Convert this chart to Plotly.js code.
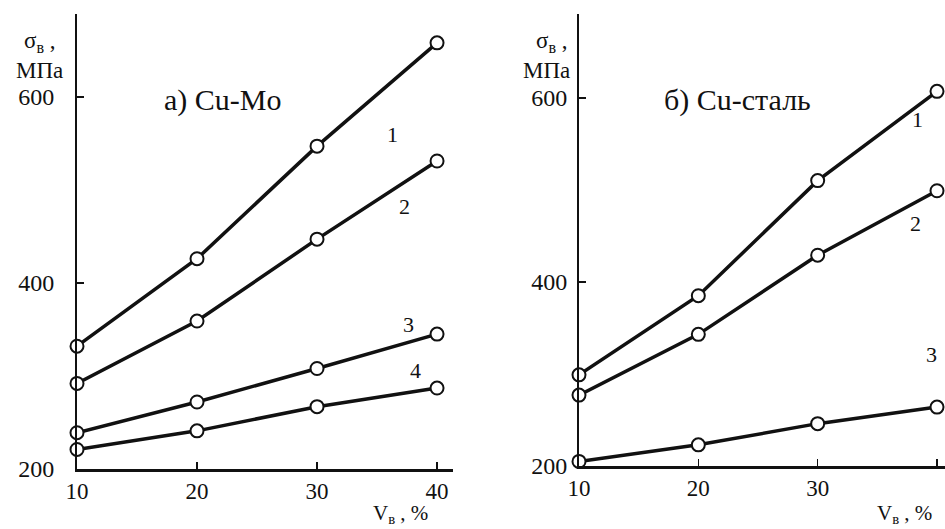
<!DOCTYPE html>
<html>
<head>
<meta charset="utf-8">
<script src="https://cdn.plot.ly/plotly-3.0.1.min.js"></script>
<style>html,body{margin:0;padding:0;background:#fff;}#chart{width:945px;height:529px;}</style>
</head>
<body>
<div id="chart"></div>
<script>
// Volume fraction of fibres, %
const vFrac = [10, 20, 30, 40];

// Panel a) Cu-Mo : tensile strength, MPa
const cuMo1 = [332, 426, 547, 658];
const cuMo2 = [292, 359, 447, 531];
const cuMo3 = [239, 272, 308, 345];
const cuMo4 = [221, 241, 267, 287];

// Panel б) Cu-сталь : tensile strength, MPa
const cuSt1 = [299, 385, 510, 607];
const cuSt2 = [277, 343, 429, 499];
const cuSt3 = [205, 223, 246, 264];

const xTicks = [10, 20, 30, 40];
const yTicks = [200, 400, 600];

const FONT = '"Liberation Serif", "Times New Roman", "DejaVu Serif", serif';
const INK = '#111';

function series(y, xa, ya) {
  return {
    x: vFrac, y: y, xaxis: xa, yaxis: ya,
    type: 'scatter', mode: 'lines+markers', cliponaxis: false,
    line: {color: INK, width: 3.5},
    marker: {symbol: 'circle', size: 13, color: '#fff', line: {color: INK, width: 2}},
    showlegend: false, hoverinfo: 'x+y'
  };
}

const data = [
  series(cuMo1, 'x', 'y'), series(cuMo2, 'x', 'y'),
  series(cuMo3, 'x', 'y'), series(cuMo4, 'x', 'y'),
  series(cuSt1, 'x2', 'y2'), series(cuSt2, 'x2', 'y2'), series(cuSt3, 'x2', 'y2')
];

function xAxis(domain, range, anchor) {
  return {
    domain: domain, range: range, anchor: anchor,
    tickmode: 'array', tickvals: xTicks, ticktext: xTicks.map(String),
    ticks: 'inside', ticklen: 7, tickwidth: 1.5, tickcolor: INK,
    showline: true, linecolor: INK, linewidth: 2.5,
    showgrid: false, zeroline: false, ticklabelstandoff: 0,
    tickfont: {family: FONT, size: 23, color: INK}
  };
}
function yAxis(domain, range, anchor, standoff) {
  return {
    domain: domain, range: range, anchor: anchor,
    tickmode: 'array', tickvals: yTicks, ticktext: yTicks.map(String),
    ticks: 'inside', ticklen: 7, tickwidth: 1.5, tickcolor: INK,
    showline: true, linecolor: INK, linewidth: 2,
    showgrid: false, zeroline: false, ticklabelstandoff: standoff,
    tickfont: {family: FONT, size: 24, color: INK}
  };
}

const ann = [];
function txt(text, x, y, xref, yref, size) {
  ann.push({text: text, x: x, y: y, xref: xref, yref: yref, showarrow: false,
    xanchor: 'center', yanchor: 'middle', font: {family: FONT, size: size, color: INK}});
}
// panel titles
txt('а) Cu-Mo', 222 / 945, 1 - 100 / 529, 'paper', 'paper', 30);
txt('б) Cu-сталь', 737 / 945, 1 - 100 / 529, 'paper', 'paper', 30);
// y axis titles
txt('σ<sub>в</sub> ,', 40 / 945, 1 - 42 / 529, 'paper', 'paper', 23);
txt('МПа', 39 / 945, 1 - 71 / 529, 'paper', 'paper', 23);
txt('σ<sub>в</sub> ,', 552 / 945, 1 - 42 / 529, 'paper', 'paper', 23);
txt('МПа', 546 / 945, 1 - 71 / 529, 'paper', 'paper', 23);
// x axis titles
txt('V<sub>в</sub> , %', 400 / 945, 1 - 514 / 529, 'paper', 'paper', 21);
txt('V<sub>в</sub> , %', 904 / 945, 1 - 514 / 529, 'paper', 'paper', 21);
// curve numbers
txt('1', 36.25, 559, 'x', 'y', 22);
txt('2', 37.3, 482, 'x', 'y', 22);
txt('3', 37.6, 355, 'x', 'y', 22);
txt('4', 38.2, 306, 'x', 'y', 22);
txt('1', 38.4, 576, 'x2', 'y2', 22);
txt('2', 38.2, 463, 'x2', 'y2', 22);
txt('3', 39.5, 321, 'x2', 'y2', 22);

const layout = {
  width: 945, height: 529,
  margin: {l: 0, r: 0, t: 0, b: 0, pad: 0},
  paper_bgcolor: '#fff', plot_bgcolor: 'rgba(0,0,0,0)',
  showlegend: false,
  xaxis: xAxis([77 / 945, 453 / 945], [10, 41.33], 'y'),
  yaxis: yAxis([1 - 469 / 529, 1 - 14 / 529], [200, 689], 'x', 16),
  xaxis2: xAxis([579 / 945, 1], [10, 40.67], 'y2'),
  yaxis2: yAxis([1 - 466 / 529, 1 - 14 / 529], [200, 691], 'x2', 5),
  annotations: ann
};

Plotly.newPlot('chart', data, layout, {staticPlot: true, displayModeBar: false});
</script>
</body>
</html>
